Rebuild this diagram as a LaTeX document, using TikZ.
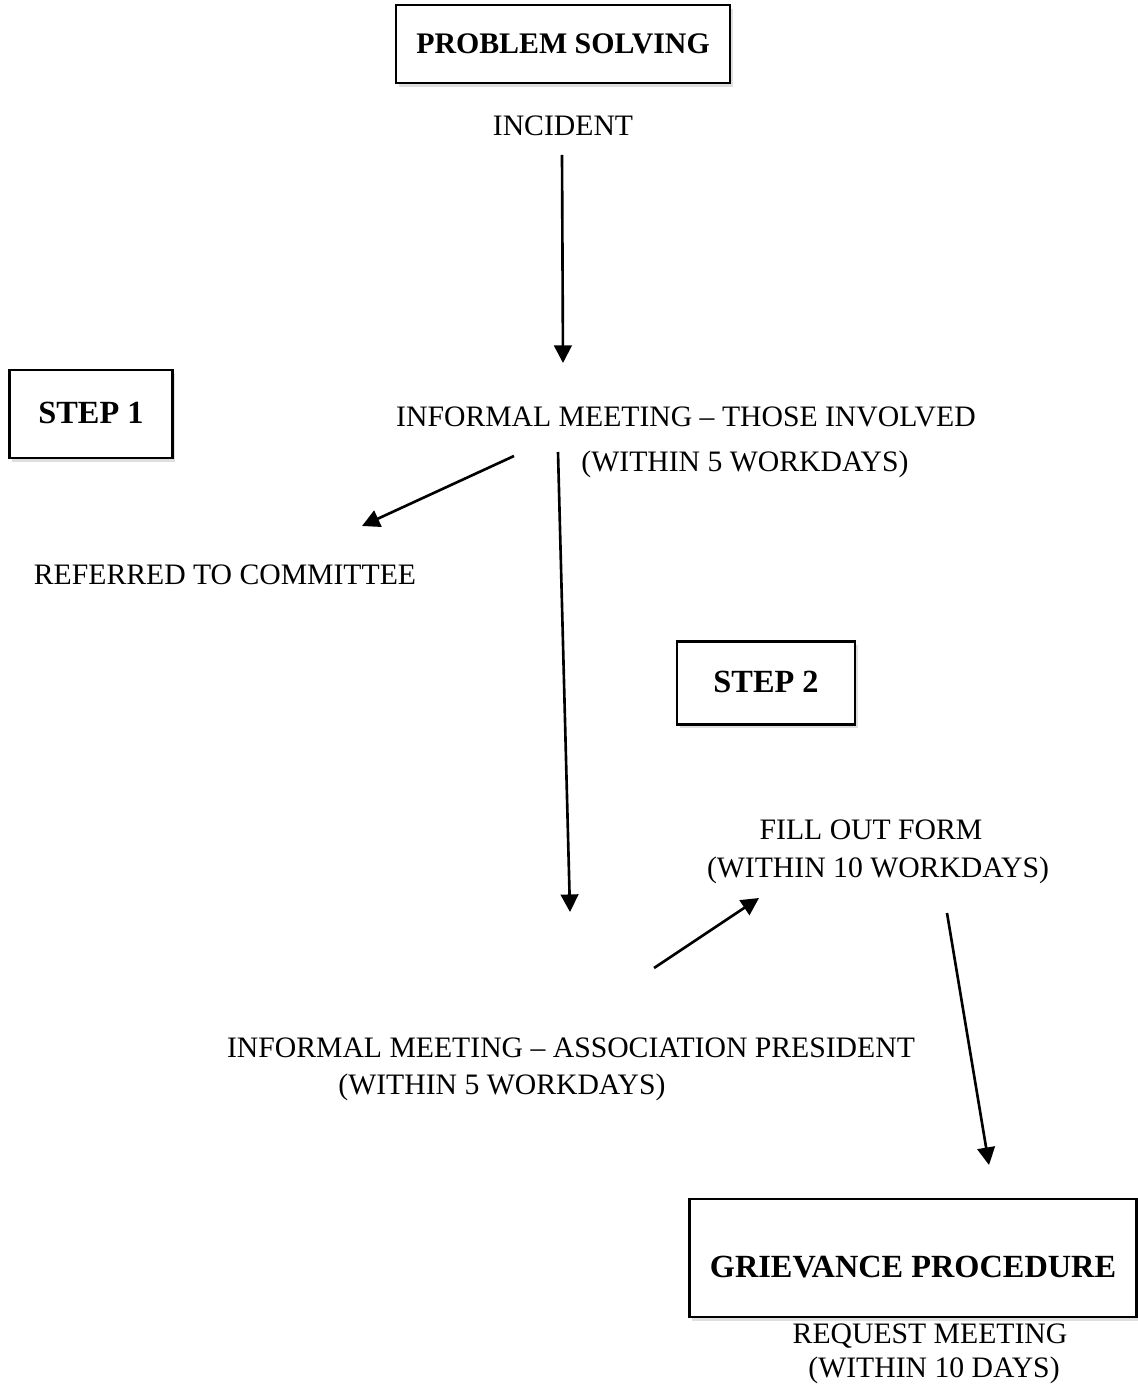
\documentclass[tikz,border=0pt]{standalone}
\usepackage{fontspec}
\setmainfont{Liberation Serif}
\usetikzlibrary{arrows.meta,shadows}
\tikzset{
	txt/.style={inner sep=0pt,text height=11.2pt,text depth=0pt,font=\fontsize{16.9pt}{20pt}\selectfont},
	hbox/.style={txt,draw,line width=1.5pt,fill=white,font=\fontsize{18.4pt}{22pt}\selectfont\bfseries,
		drop shadow={shadow xshift=1.5pt,shadow yshift=-2pt,opacity=.25}},
	arr/.style={line width=1.5pt,-{Triangle[length=10pt,width=10pt]}}
}
\begin{document}
\begin{tikzpicture}[x=0.02cm,y=-0.02cm]
		\useasboundingbox(0,0)rectangle(1138,1388);
		\node[hbox,minimum width=6.68cm,minimum height=1.56cm,font=\fontsize{17pt}{20pt}\selectfont\bfseries](ps)at(563,44){PROBLEM SOLVING};
		\node[txt](inc)at(563,126){INCIDENT};
		\node[hbox,minimum width=3.26cm,minimum height=1.76cm](s1)at(91,414){STEP 1};
		\node[txt](im1)at(686,417){INFORMAL MEETING -- THOSE INVOLVED};
		\node[txt](w1)at(745,462){(WITHIN 5 WORKDAYS)};
		\node[txt](ref)at(225,575){REFERRED TO COMMITTEE};
		\node[hbox,minimum width=3.56cm,minimum height=1.66cm](s2)at(766,683){STEP 2};
		\node[txt](ff)at(871,830){FILL OUT FORM};
		\node[txt](w2)at(878,868){(WITHIN 10 WORKDAYS)};
		\node[txt](im2)at(571,1048){INFORMAL MEETING -- ASSOCIATION PRESIDENT};
		\node[txt](w3)at(502,1085){(WITHIN 5 WORKDAYS)};
		\node[hbox,minimum width=8.94cm,minimum height=2.36cm](gp)at(913,1258){\raisebox{-.2cm}{GRIEVANCE PROCEDURE}};
		\node[txt](rm)at(930,1334){REQUEST MEETING};
		\node[txt](w4)at(934,1368){(WITHIN 10 DAYS)};
		% arrow ends
		\coordinate(a1)at(562,155);\coordinate(b1)at(563,363);
		\coordinate(a2)at(514,456);\coordinate(b2)at(362,526);
		\coordinate(a3)at(558,452);\coordinate(b3)at(570,912);
		\coordinate(a4)at(654,968);\coordinate(b4)at(759,898);
		\coordinate(a5)at(947,913);\coordinate(b5)at(989,1165);
		\draw[arr](a1)--(b1);
		\draw[arr](a2)--(b2);
		\draw[arr](a3)--(b3);
		\draw[arr](a4)--(b4);
		\draw[arr](a5)--(b5);
	\end{tikzpicture}
\end{document}
